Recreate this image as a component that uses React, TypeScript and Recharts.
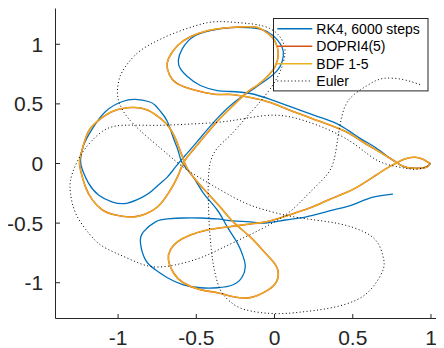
import React from 'react';
import { LineChart, Line, XAxis, YAxis, Legend } from 'recharts';

// RK4, 6000 steps
const rk4X = [0.994, 0.981, 0.943, 0.879, 0.821, 0.777, 0.738, 0.643, 0.547, 0.419, 0.292, 0.132, -0.027, -0.155, -0.283, -0.366, -0.474, -0.557, -0.602, -0.615, -0.589, -0.519, -0.41, -0.283, -0.174, -0.078, -0.008, 0.036, 0.056, 0.049, 0.017, -0.04, -0.104, -0.168, -0.251, -0.366, -0.493, -0.57, -0.634, -0.685, -0.729, -0.793, -0.844, -0.94, -1.036, -1.125, -1.189, -1.227, -1.24, -1.221, -1.163, -1.08, -0.972, -0.889, -0.806, -0.761, -0.729, -0.685, -0.646, -0.615, -0.589, -0.519, -0.455, -0.366, -0.302, -0.238, -0.2, -0.187, -0.206, -0.264, -0.366, -0.474, -0.583, -0.685, -0.761, -0.825, -0.857, -0.838, -0.761, -0.685, -0.583, -0.474, -0.366, -0.264, -0.155, -0.059, 0.068, 0.196, 0.324, 0.451, 0.528, 0.63, 0.757];
const rk4Y = [0, -0.023, -0.039, -0.039, -0.023, 0.011, 0.044, 0.136, 0.211, 0.32, 0.387, 0.462, 0.537, 0.587, 0.604, 0.612, 0.654, 0.729, 0.796, 0.863, 0.963, 1.063, 1.114, 1.139, 1.139, 1.122, 1.072, 1.005, 0.938, 0.855, 0.779, 0.713, 0.654, 0.596, 0.52, 0.378, 0.186, 0.069, -0.031, -0.114, -0.165, -0.24, -0.282, -0.332, -0.323, -0.265, -0.165, -0.056, 0.028, 0.153, 0.295, 0.437, 0.52, 0.537, 0.52, 0.487, 0.437, 0.353, 0.211, 0.103, 0.003, -0.114, -0.248, -0.39, -0.532, -0.666, -0.783, -0.866, -0.95, -1.017, -1.042, -1.042, -1.017, -0.958, -0.891, -0.808, -0.666, -0.574, -0.49, -0.465, -0.457, -0.457, -0.465, -0.482, -0.49, -0.499, -0.474, -0.449, -0.407, -0.365, -0.332, -0.282, -0.256];

// DOPRI4(5) and BDF 1-5 (visually identical)
const dopriX = [0.994, 0.981, 0.943, 0.879, 0.821, 0.777, 0.738, 0.643, 0.547, 0.451, 0.292, 0.132, -0.027, -0.155, -0.283, -0.366, -0.474, -0.583, -0.653, -0.685, -0.678, -0.621, -0.538, -0.429, -0.302, -0.174, -0.104, -0.04, 0.004, 0.024, 0.004, -0.04, -0.104, -0.168, -0.264, -0.366, -0.474, -0.538, -0.583, -0.621, -0.678, -0.749, -0.825, -0.908, -1.017, -1.1, -1.163, -1.208, -1.24, -1.246, -1.227, -1.189, -1.125, -1.036, -0.908, -0.806, -0.729, -0.678, -0.634, -0.602, -0.576, -0.538, -0.429, -0.347, -0.264, -0.155, -0.078, -0.008, 0.024, 0.004, -0.059, -0.155, -0.264, -0.366, -0.474, -0.583, -0.646, -0.678, -0.666, -0.621, -0.538, -0.429, -0.302, -0.155, -0.059, 0.036, 0.132, 0.241, 0.343, 0.451, 0.528, 0.63, 0.719, 0.777, 0.828, 0.892, 0.949, 0.994];
const dopriY = [0, -0.023, -0.039, -0.039, -0.023, 0.011, 0.044, 0.119, 0.195, 0.27, 0.353, 0.429, 0.512, 0.554, 0.579, 0.579, 0.604, 0.646, 0.704, 0.796, 0.88, 0.988, 1.063, 1.114, 1.139, 1.147, 1.139, 1.089, 1.022, 0.921, 0.813, 0.738, 0.662, 0.604, 0.487, 0.353, 0.186, 0.086, 0.003, -0.114, -0.248, -0.365, -0.424, -0.449, -0.432, -0.39, -0.307, -0.198, -0.056, 0.028, 0.128, 0.27, 0.362, 0.437, 0.47, 0.445, 0.378, 0.312, 0.211, 0.103, 0.011, -0.081, -0.248, -0.365, -0.49, -0.616, -0.724, -0.825, -0.916, -1.008, -1.075, -1.125, -1.117, -1.084, -1.058, -1.0, -0.916, -0.808, -0.724, -0.657, -0.599, -0.557, -0.532, -0.507, -0.49, -0.457, -0.415, -0.365, -0.307, -0.248, -0.198, -0.114, -0.039, 0.003, 0.036, 0.053, 0.036, 0];
const bdfX = dopriX.slice();
const bdfY = dopriY.slice();

// Euler (main sweep)
const eulerX = [0.994, 0.962, 0.898, 0.834, 0.738, 0.643, 0.547, 0.419, 0.241, 0.024, -0.187, -0.366, -0.583, -0.78, -0.972, -1.1, -1.208, -1.272, -1.304, -1.304, -1.272, -1.189, -1.112, -1.017, -0.902, -0.78, -0.634, -0.474, -0.334, -0.187, -0.059, 0.087, 0.196, 0.292, 0.355, 0.387, 0.407, 0.432, 0.483, 0.592, 0.694, 0.821, 0.93];
const eulerY = [0, -0.031, -0.048, -0.039, -0.014, 0.036, 0.128, 0.236, 0.337, 0.404, 0.378, 0.345, 0.328, 0.32, 0.32, 0.27, 0.128, -0.014, -0.14, -0.248, -0.415, -0.582, -0.683, -0.749, -0.816, -0.866, -0.85, -0.791, -0.708, -0.616, -0.532, -0.415, -0.282, -0.156, -0.056, 0.069, 0.236, 0.404, 0.546, 0.654, 0.713, 0.704, 0.662];
// Euler (loop through upper left and lower right)
const eulerLoopX = [-0.187, -0.283, -0.366, -0.41, -0.423, -0.423, -0.417, -0.404, -0.385, -0.347, -0.283, -0.187, 0.004, 0.196, 0.368, 0.528, 0.63, 0.694, 0.694, 0.655, 0.56, 0.419, 0.26, 0.094, -0.059, -0.187, -0.334, -0.474, -0.583, -0.698, -0.825, -0.934, -0.991, -1.004, -0.985, -0.934, -0.857, -0.749, -0.634, -0.506, -0.378, -0.219, -0.078, 0.017, 0.062, 0.062, 0.024, -0.059, -0.187];
const eulerLoopY = [0.378, 0.236, 0.128, 0.011, -0.14, -0.307, -0.515, -0.724, -0.891, -1.058, -1.159, -1.226, -1.259, -1.242, -1.209, -1.142, -1.033, -0.891, -0.783, -0.657, -0.566, -0.507, -0.474, -0.44, -0.39, -0.332, -0.231, -0.123, -0.031, 0.094, 0.236, 0.378, 0.504, 0.612, 0.738, 0.846, 0.947, 1.03, 1.097, 1.155, 1.189, 1.18, 1.155, 1.089, 0.988, 0.88, 0.738, 0.571, 0.378];

const xTicks = [-1, -0.5, 0, 0.5, 1];
const yTicks = [-1, -0.5, 0, 0.5, 1];
const seriesNames = ['RK4, 6000 steps', 'DOPRI4(5)', 'BDF 1-5', 'Euler'];

const toPts = (xs: number[], ys: number[]) => xs.map((x, i) => ({ x, y: ys[i] }));
const rk4 = toPts(rk4X, rk4Y);
const dopri = toPts(dopriX, dopriY);
const bdf = toPts(bdfX, bdfY);
const euler = toPts(eulerX, eulerY);
const eulerLoop = toPts(eulerLoopX, eulerLoopY);

const AXIS = '#262626';
const FONT = '"Liberation Sans", Arial, Helvetica, sans-serif';
const COLORS = ['#0072BD', '#D95319', '#EDB120', '#000000'];
const DOTS = '1 2.5';

const BottomTick = (p: any) => (
  <g>
    <line x1={p.x} y1={p.y} x2={p.x} y2={p.y - 4.5} stroke={AXIS} strokeWidth={1} />
    <text x={p.x} y={p.y + 26.5} textAnchor="middle" fontSize={21} fill={AXIS} fontFamily={FONT}>{String(p.payload.value)}</text>
  </g>
);
const TopTick = (p: any) => (
  <line x1={p.x} y1={p.y} x2={p.x} y2={p.y + 4.5} stroke={AXIS} strokeWidth={1} />
);
const LeftTick = (p: any) => (
  <g>
    <line x1={p.x} y1={p.y} x2={p.x + 4.5} y2={p.y} stroke={AXIS} strokeWidth={1} />
    <text x={p.x - 12.3} y={p.y + 7.5} textAnchor="end" fontSize={21} fill={AXIS} fontFamily={FONT}>{String(p.payload.value)}</text>
  </g>
);
const RightTick = (p: any) => (
  <line x1={p.x} y1={p.y} x2={p.x - 4.5} y2={p.y} stroke={AXIS} strokeWidth={1} />
);

const LegendBox = () => {
  const rows = [10.7, 28.2, 45.7, 63.0];
  return (
    <svg width={156} height={74} style={{ display: 'block' }}>
      <rect x={0.5} y={0.5} width={154.5} height={72.4} fill="none" stroke={AXIS} strokeWidth={1} />
      {seriesNames.map((name, i) => (
        <g key={name}>
          <line x1={4.3} y1={rows[i]} x2={39.3} y2={rows[i]} stroke={COLORS[i]}
            strokeWidth={i === 3 ? 1 : 1.5} strokeDasharray={i === 3 ? DOTS : undefined} />
          <text x={43.3} y={rows[i] + 5} fontSize={14} fill="#000" fontFamily={FONT}>{name}</text>
        </g>
      ))}
    </svg>
  );
};

export default function App() {
  return (
    <LineChart width={436} height={340} margin={{ top: 0.5, right: 0.5, bottom: 0, left: 0.5 }}>
      <XAxis xAxisId="b" dataKey="x" type="number" domain={[-1.4, 1.08]} ticks={xTicks} allowDataOverflow
        height={29.5} tickSize={0} tickMargin={0} tick={BottomTick} tickLine={false} axisLine={{ stroke: AXIS }} />
      <XAxis xAxisId="t" orientation="top" dataKey="x" type="number" domain={[-1.4, 1.08]} ticks={xTicks} allowDataOverflow
        height={0} tickSize={0} tickMargin={0} tick={TopTick} tickLine={false} axisLine={{ stroke: AXIS }} />
      <YAxis yAxisId="l" dataKey="y" type="number" domain={[-1.3, 1.3]} ticks={yTicks} allowDataOverflow
        width={47} tickSize={0} tickMargin={0} tick={LeftTick} tickLine={false} axisLine={{ stroke: AXIS }} />
      <YAxis yAxisId="r" orientation="right" dataKey="y" type="number" domain={[-1.3, 1.3]} ticks={yTicks} allowDataOverflow
        width={0} tickSize={0} tickMargin={0} tick={RightTick} tickLine={false} axisLine={{ stroke: AXIS }} />
      <Line xAxisId="b" yAxisId="l" data={rk4} dataKey="y" type="natural" stroke={COLORS[0]} strokeWidth={1.3} dot={false} activeDot={false} isAnimationActive={false} name={seriesNames[0]} />
      <Line xAxisId="b" yAxisId="l" data={dopri} dataKey="y" type="natural" stroke={COLORS[1]} strokeWidth={1.6} dot={false} activeDot={false} isAnimationActive={false} name={seriesNames[1]} />
      <Line xAxisId="b" yAxisId="l" data={bdf} dataKey="y" type="natural" stroke={COLORS[2]} strokeWidth={1.25} dot={false} activeDot={false} isAnimationActive={false} name={seriesNames[2]} />
      <Line xAxisId="b" yAxisId="l" data={euler} dataKey="y" type="natural" stroke={COLORS[3]} strokeWidth={1} strokeDasharray={DOTS} dot={false} activeDot={false} isAnimationActive={false} name={seriesNames[3]} />
      <Line xAxisId="b" yAxisId="l" data={eulerLoop} dataKey="y" type="natural" stroke={COLORS[3]} strokeWidth={1} strokeDasharray={DOTS} dot={false} activeDot={false} isAnimationActive={false} name="Euler (cont.)" legendType="none" />
      <Legend layout="vertical" align="center" verticalAlign="middle" content={LegendBox}
        wrapperStyle={{ position: 'absolute', left: 264.7, top: 10.3, width: 156, height: 74 }} />
    </LineChart>
  );
}
